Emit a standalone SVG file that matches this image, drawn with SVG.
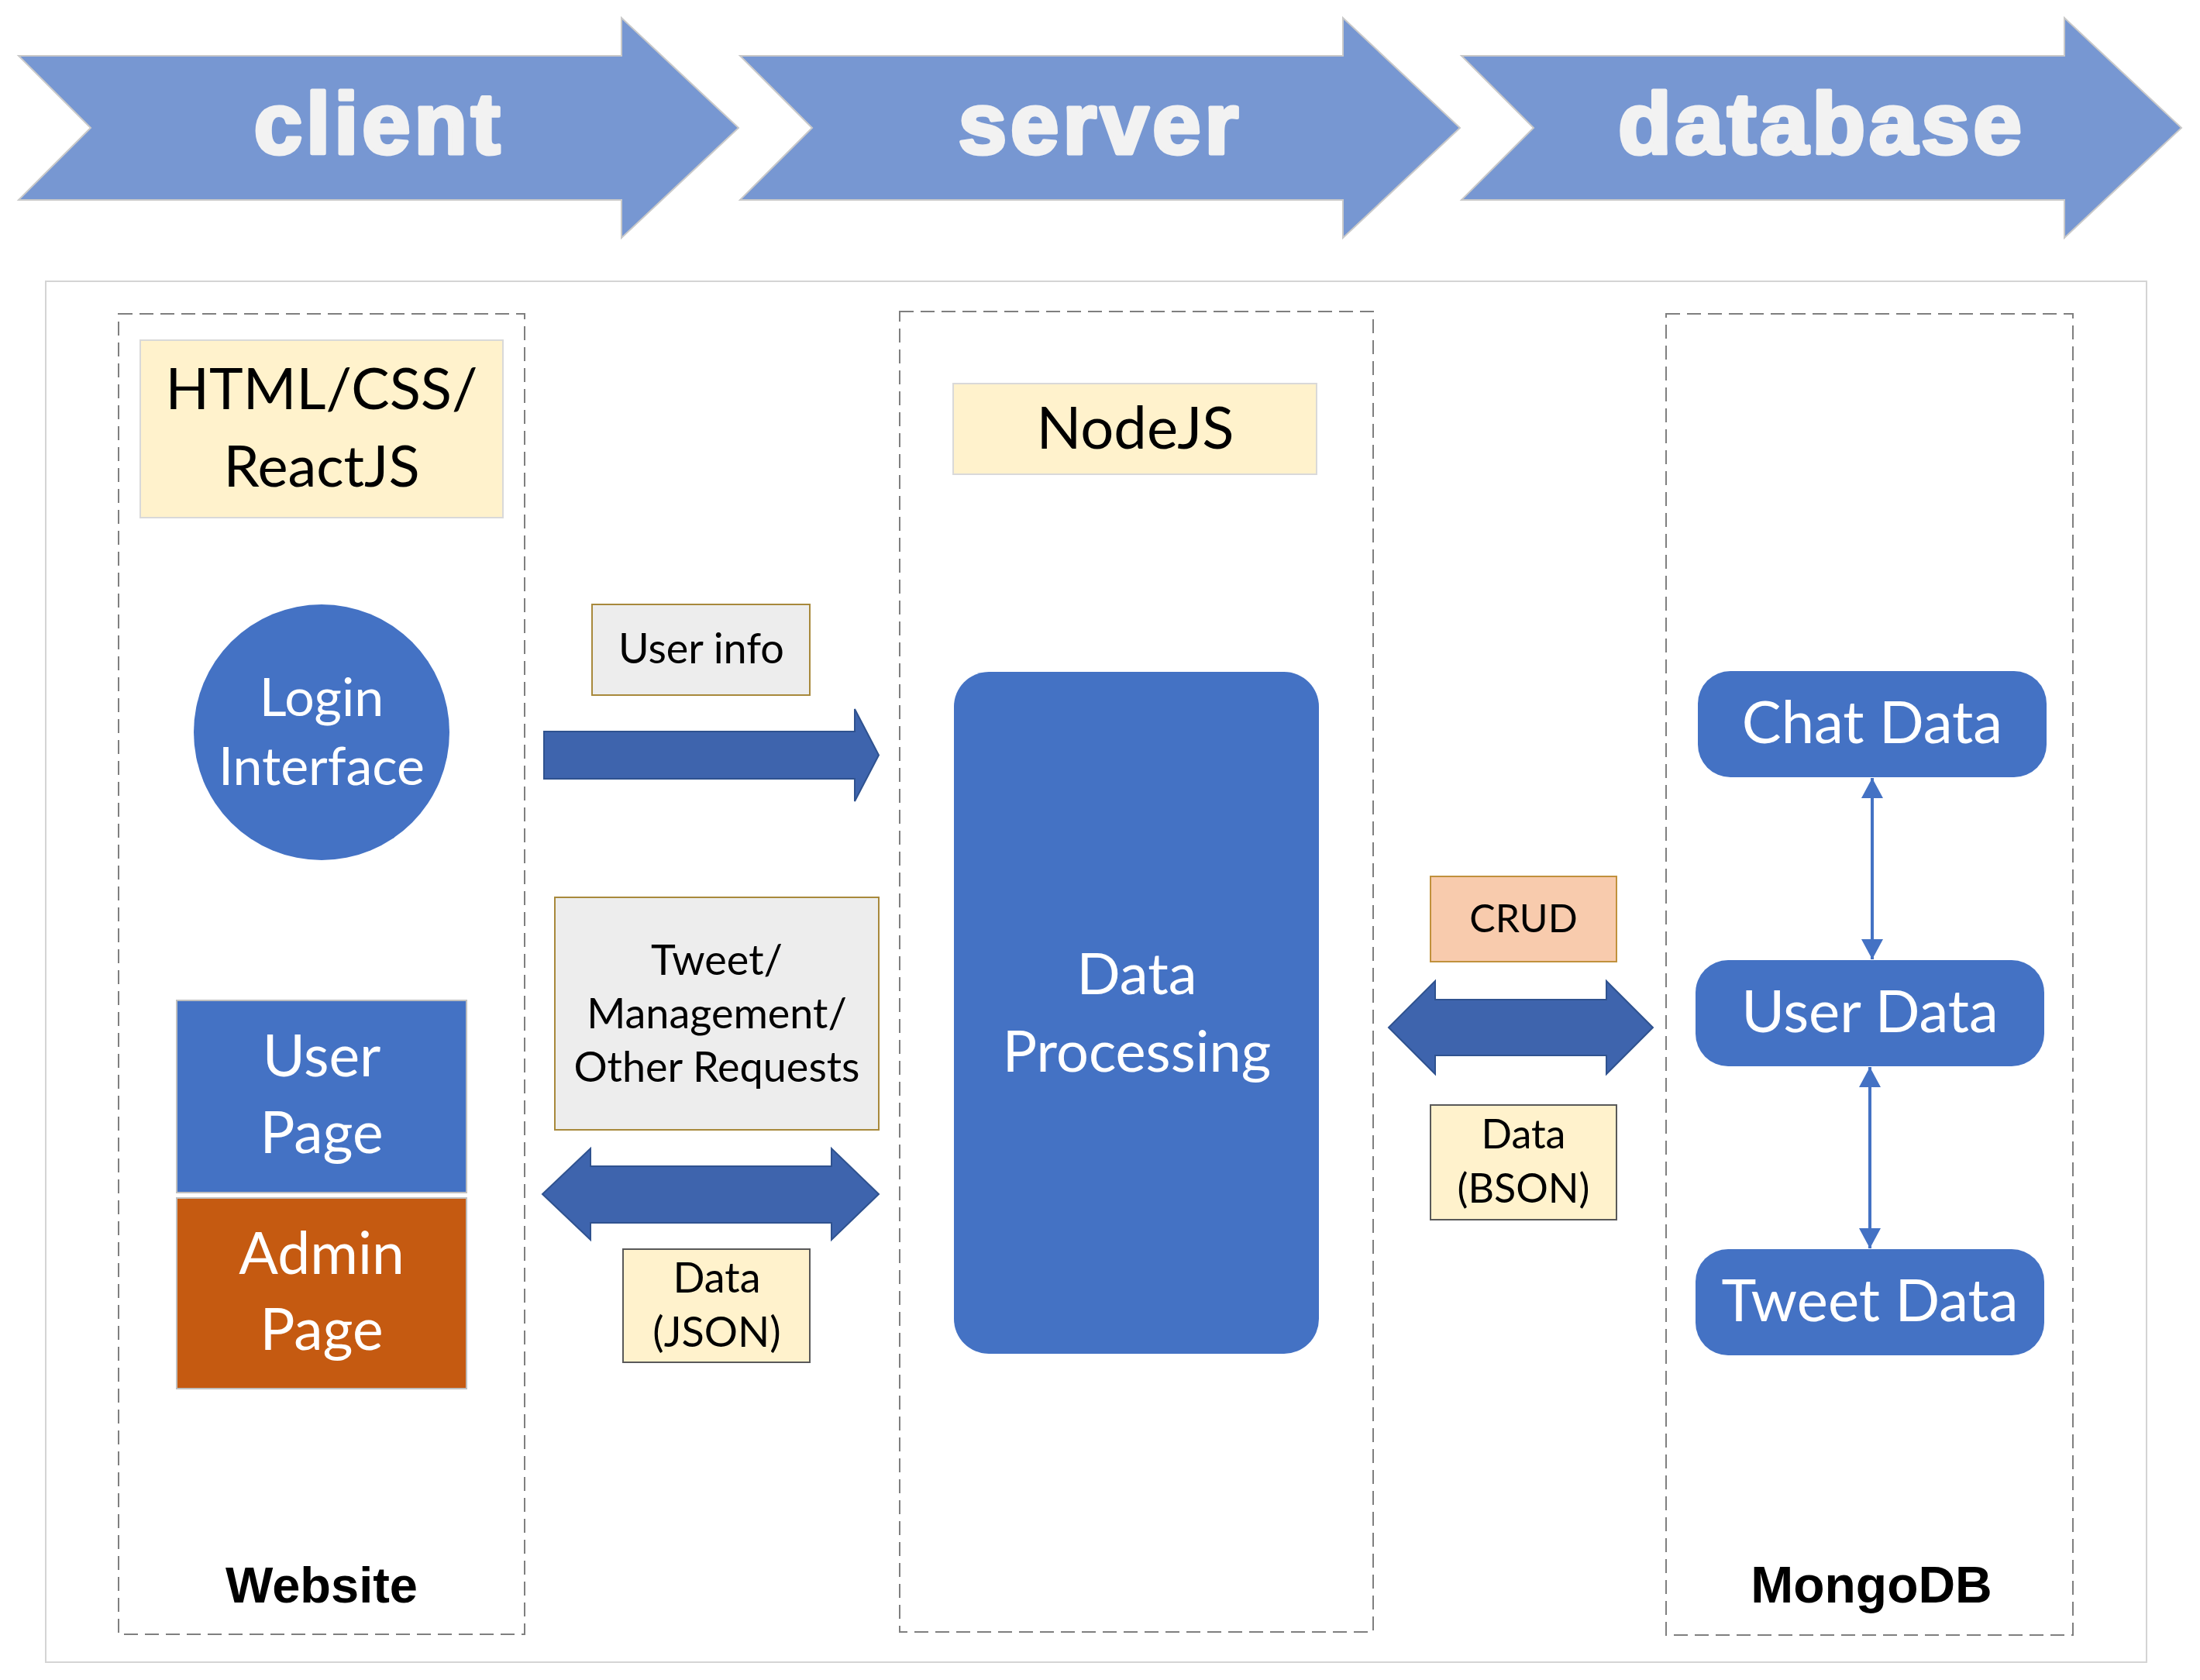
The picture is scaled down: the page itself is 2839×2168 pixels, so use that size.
<svg xmlns="http://www.w3.org/2000/svg" width="2839" height="2168" viewBox="0 0 2839 2168">
<defs>
<style>
.chev{fill:#7797D2;stroke:#C9C9C9;stroke-width:2}
.chevtxt{font-family:"Liberation Sans",Arial,sans-serif;font-weight:bold;font-size:112px;letter-spacing:5px;fill:#F2F2F2;stroke:#F2F2F2;stroke-width:5;stroke-linejoin:round;text-anchor:middle}
.frame{fill:#FFFFFF;stroke:#D4D4D4;stroke-width:2}
.dash{fill:none;stroke:#7F7F7F;stroke-width:2;stroke-dasharray:18 9}
.cal{font-family:Lato,"Open Sans",sans-serif;text-anchor:middle}
.blk{fill:#000000}
.wht{fill:#FFFFFF}
.yellow{fill:#FFF2CC;stroke:#D9D9D9;stroke-width:2}
.yellowd{fill:#FFF2CC;stroke:#595959;stroke-width:2}
.grey{fill:#EDEDED;stroke:#A8893C;stroke-width:2}
.blue{fill:#4472C4}
.bluebox{fill:#4472C4;stroke:#BFBFBF;stroke-width:2}
.orange{fill:#C55A11;stroke:#BFBFBF;stroke-width:2}
.crud{fill:#F8CBAD;stroke:#C0913D;stroke-width:2}
.bigarrow{fill:#3E64AD;stroke:#2F528F;stroke-width:2}
.dbline{stroke:#4472C4;stroke-width:4;fill:none}
.label{font-family:"Liberation Sans",Arial,sans-serif;font-weight:bold;fill:#000000;text-anchor:middle;font-size:65px}
</style>
<marker id="ah" markerUnits="userSpaceOnUse" markerWidth="26" markerHeight="28" viewBox="0 0 26 28" refX="26" refY="14" orient="auto-start-reverse">
<path d="M0,0 L26,14 L0,28 Z" fill="#4472C4"/>
</marker>
</defs>
<rect width="2839" height="2168" fill="#FFFFFF"/>

<g id="stage-client">
<path class="chev" d="M24,72 L802,72 L802,23 L953,165 L802,307 L802,258 L24,258 L117,165 Z"/>
<text class="chevtxt" x="489" y="198">client</text>
</g>
<g id="stage-server">
<path class="chev" d="M955,72 L1733,72 L1733,23 L1884,165 L1733,307 L1733,258 L955,258 L1048,165 Z"/>
<text class="chevtxt" x="1420" y="198">server</text>
</g>
<g id="stage-database">
<path class="chev" d="M1886,72 L2664,72 L2664,23 L2815,165 L2664,307 L2664,258 L1886,258 L1979,165 Z"/>
<text class="chevtxt" x="2351" y="198">database</text>
</g>

<rect id="frame" class="frame" x="59" y="363" width="2711" height="1782"/>

<g id="website">
<rect class="dash" x="153" y="405" width="524" height="1704"/>
<text class="label" x="415" y="2068">Website</text>
</g>
<g id="server">
<rect class="dash" x="1161" y="402" width="611" height="1704"/>
</g>
<g id="mongodb">
<rect class="dash" x="2150" y="405" width="525" height="1705"/>
<text class="label" x="2415" y="2068" style="font-size:66px">MongoDB</text>
</g>

<g id="html-css-react">
<rect class="yellow" x="181" y="439" width="468" height="229"/>
<text class="cal blk" x="415" y="528" font-size="74">HTML/CSS/</text>
<text class="cal blk" x="415" y="628" font-size="74">ReactJS</text>
</g>

<g id="login-interface">
<circle class="blue" cx="415" cy="945" r="165"/>
<text class="cal wht" x="415" y="924" font-size="68">Login</text>
<text class="cal wht" x="415" y="1013" font-size="68">Interface</text>
</g>

<g id="user-page">
<rect class="bluebox" x="228" y="1291" width="374" height="248"/>
<text class="cal wht" x="415" y="1389" font-size="75">User</text>
<text class="cal wht" x="415" y="1488" font-size="75">Page</text>
</g>
<g id="admin-page">
<rect class="orange" x="228" y="1546" width="374" height="246"/>
<text class="cal wht" x="415" y="1644" font-size="75">Admin</text>
<text class="cal wht" x="415" y="1742" font-size="75">Page</text>
</g>

<g id="user-info">
<rect class="grey" x="764" y="780" width="281" height="117"/>
<text class="cal blk" x="905" y="856" font-size="54">User info</text>
</g>

<g id="requests">
<rect class="grey" x="716" y="1158" width="418" height="300"/>
<text class="cal blk" x="925" y="1258" font-size="54">Tweet/</text>
<text class="cal blk" x="925" y="1327" font-size="54">Management/</text>
<text class="cal blk" x="925" y="1396" font-size="54">Other Requests</text>
</g>

<g id="data-json">
<rect class="yellowd" x="804" y="1612" width="241" height="146"/>
<text class="cal blk" x="925" y="1668" font-size="54">Data</text>
<text class="cal blk" x="925" y="1738" font-size="54">(JSON)</text>
</g>

<g id="nodejs">
<rect class="yellow" x="1230" y="495" width="469" height="117"/>
<text class="cal blk" x="1465" y="579" font-size="76">NodeJS</text>
</g>

<g id="data-processing">
<rect class="blue" x="1231" y="867" width="471" height="880" rx="45" ry="45"/>
<text class="cal wht" x="1467" y="1283" font-size="74">Data</text>
<text class="cal wht" x="1467" y="1383" font-size="74">Processing</text>
</g>

<g id="crud">
<rect class="crud" x="1846" y="1131" width="240" height="110"/>
<text class="cal blk" x="1966" y="1203" font-size="50">CRUD</text>
</g>

<g id="data-bson">
<rect class="yellowd" x="1846" y="1426" width="240" height="148"/>
<text class="cal blk" x="1966" y="1482" font-size="52">Data</text>
<text class="cal blk" x="1966" y="1552" font-size="52">(BSON)</text>
</g>

<g id="chat-data">
<rect class="blue" x="2191" y="866" width="450" height="137" rx="42" ry="42"/>
<text class="cal wht" x="2416" y="959" font-size="76">Chat Data</text>
</g>
<g id="user-data">
<rect class="blue" x="2188" y="1239" width="450" height="137" rx="42" ry="42"/>
<text class="cal wht" x="2413" y="1332" font-size="76">User Data</text>
</g>
<g id="tweet-data">
<rect class="blue" x="2188" y="1612" width="450" height="137" rx="42" ry="42"/>
<text class="cal wht" x="2413" y="1705" font-size="76">Tweet Data</text>
</g>

<g id="connectors">
<path class="bigarrow" d="M702,944 L1103,944 L1103,915 L1134,974.5 L1103,1034 L1103,1005 L702,1005 Z"/>
<path class="bigarrow" d="M700,1541 L762,1482 L762,1505 L1073,1505 L1073,1482 L1134,1541 L1073,1600 L1073,1578 L762,1578 L762,1600 Z"/>
<path class="bigarrow" d="M1792,1326 L1852,1266 L1852,1290 L2073,1290 L2073,1266 L2133,1326 L2073,1386 L2073,1362 L1852,1362 L1852,1386 Z"/>
<line class="dbline" x1="2416" y1="1004" x2="2416" y2="1238" marker-start="url(#ah)" marker-end="url(#ah)"/>
<line class="dbline" x1="2413" y1="1377" x2="2413" y2="1611" marker-start="url(#ah)" marker-end="url(#ah)"/>
</g>
</svg>
